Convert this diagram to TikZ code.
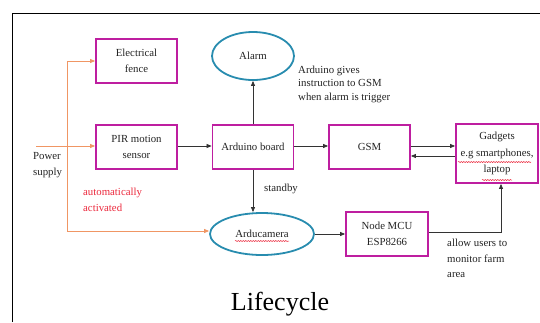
\documentclass[tikz,border=0pt]{standalone}
\usepackage{fontspec}
\setmainfont{Liberation Serif}
\usetikzlibrary{arrows.meta,decorations.pathmorphing,shapes.geometric}
\definecolor{boxc}{RGB}{190,30,160}
\definecolor{ellc}{RGB}{40,140,175}
\definecolor{orng}{RGB}{240,150,100}
\definecolor{redt}{RGB}{235,40,60}
\definecolor{txt}{RGB}{35,35,35}
\begin{document}
\begin{tikzpicture}[x=1pt,y=-1pt,
  boxn/.style={draw=boxc,line width=1.8pt,rectangle,minimum width=81pt,minimum height=44pt,inner sep=1pt,align=center,text=txt,font=\fontsize{10.8}{16.5}\selectfont},
  elln/.style={draw=ellc,line width=1.8pt,ellipse,inner sep=0pt,text=txt,font=\fontsize{10.8}{12}\selectfont},
  arr/.style={-{Triangle[length=5pt,width=4pt]},line width=0.7pt,draw=black!80},
  oarr/.style={-{Triangle[length=5pt,width=4pt]},line width=0.8pt,draw=orng},
  note/.style={align=left,text=txt,inner sep=0pt,anchor=north west},
  wavy/.style={draw=redt,line width=0.5pt,decorate,decoration={snake,segment length=2.5pt,amplitude=0.6pt}}]
\useasboundingbox (0,0) rectangle (540,322);
% frame
\draw[line width=0.8pt] (12,322) -- (12,13) -- (540,13);
% nodes
\node[boxn] (fence) at (136.5,61) {Electrical\\fence};
\node[boxn] (pir) at (136.5,147) {PIR motion\\sensor};
\node[boxn] (ard) at (253,147) {Arduino board};
\node[boxn] (gsm) at (369.5,147) {GSM};
\node[boxn,minimum width=82pt,minimum height=59pt] (gad) at (497,153.5) {Gadgets\\e.g smartphones,\\laptop};
\node[boxn,minimum width=82pt] (mcu) at (387,234) {Node MCU\\ESP8266};
\node[elln,minimum width=82pt,minimum height=48pt] (alarm) at (253,56) {Alarm};
\node[elln,minimum width=104pt,minimum height=42pt] (cam) at (262,234) {Arducamera};
% wavy spell-check underlines
\draw[wavy] (235,241) -- (289,241);
\draw[wavy] (458,162) -- (531,162);
\draw[wavy] (482,180) -- (512,180);
% coordinates
\coordinate (pw) at (36,146);
\coordinate (ob) at (67,231);
\coordinate (ot) at (67,61);
\coordinate (bend) at (501,232);
% orange power lines
\draw[oarr] (pw) -- (pir.west |- pw);
\draw[line width=0.8pt,draw=orng] (ob) -- (ot);
\draw[oarr] (ot) -- (fence.west);
\draw[oarr] (ob) -- (ob -| cam.west);
% black arrows
\draw[arr] (pir.east |- pw) -- (ard.west |- pw);
\draw[arr] (ard.east |- pw) -- (gsm.west |- pw);
\draw[arr] (gsm.east |- pw) -- (gad.west |- pw);
\coordinate (rb) at (400,156);
\draw[arr] (gad.west |- rb) -- (gsm.east |- rb);
\draw[arr] (ard.north) -- (alarm.south);
\draw[arr] (ard.south) -- (ard.south |- cam.north);
\draw[arr] (cam.east) -- (mcu.west);
\draw[arr] (mcu.east |- bend) -- (bend) -- (bend |- gad.south);
% labels
\node[note,font=\fontsize{10.8}{16}\selectfont] (pwl) at (33,152) {Power\\supply};
\node[note,text=redt,font=\fontsize{10.8}{16}\selectfont] (auto) at (83,188) {automatically\\activated};
\node[note,anchor=west,font=\fontsize{10.8}{12}\selectfont] (stb) at (264,189) {standby};
\node[note,font=\fontsize{10.8}{13.3}\selectfont] (inst) at (298,66) {Arduino gives\\instruction to GSM\\when alarm is trigger};
\node[note,font=\fontsize{10.8}{15.5}\selectfont] (allow) at (447,239) {allow users to\\monitor farm\\area};
\node[anchor=base,inner sep=0pt,font=\fontsize{26}{30}\selectfont] (title) at (280,310) {Lifecycle};
\end{tikzpicture}
\end{document}
